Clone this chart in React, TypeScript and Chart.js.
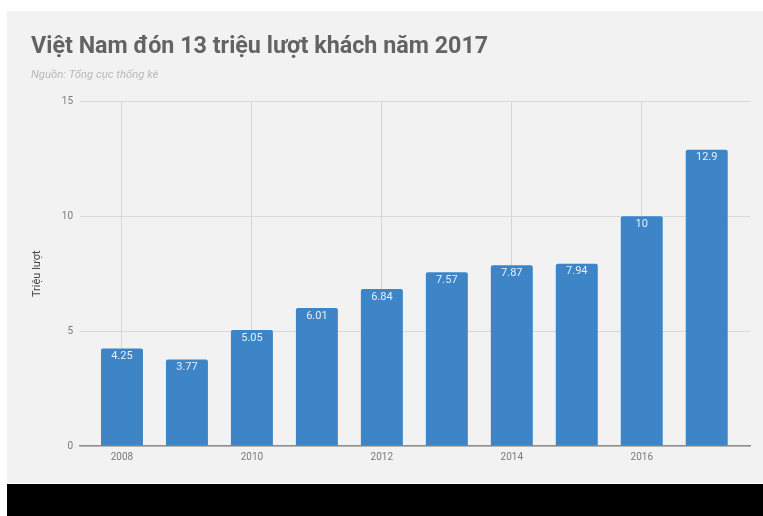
import React, { useEffect, useRef } from "react";
import { Chart, registerables } from "chart.js";

Chart.register(...registerables);

const years: number[] = [2008, 2009, 2010, 2011, 2012, 2013, 2014, 2015, 2016, 2017];
const visitors: number[] = [4.25, 3.77, 5.05, 6.01, 6.84, 7.57, 7.87, 7.94, 10, 12.9];
const valueLabels: string[] = ["4.25", "3.77", "5.05", "6.01", "6.84", "7.57", "7.87", "7.94", "10", "12.9"];
const xTickYears: number[] = [2008, 2010, 2012, 2014, 2016];
const yTicks: number[] = [0, 5, 10, 15];

const TITLE = "Việt Nam đón 13 triệu lượt khách năm 2017";
const SUBTITLE = "Nguồn: Tổng cục thống kê";
const Y_TITLE = "Triệu lượt";

const valueLabelPlugin = {
  id: "valueLabels",
  afterDatasetsDraw(chart: any) {
    const ctx = chart.ctx;
    const meta = chart.getDatasetMeta(0);
    ctx.save();
    ctx.font = '11px Roboto, "Noto Sans", sans-serif';
    ctx.fillStyle = "#e8eef8";
    ctx.textAlign = "center";
    ctx.textBaseline = "middle";
    meta.data.forEach((bar: any, i: number) => {
      ctx.fillText(valueLabels[i], bar.x, bar.y + 8);
    });
    ctx.restore();
  },
};

export default function App() {
  const canvasRef = useRef<HTMLCanvasElement | null>(null);

  useEffect(() => {
    document.body.style.margin = "0";
    const canvas = canvasRef.current;
    if (!canvas) return;
    const chart = new Chart(canvas, {
      type: "bar",
      data: {
        datasets: [
          {
            data: years.map((y, i) => ({ x: y, y: visitors[i] })),
            backgroundColor: "#3d85c6",
            borderWidth: 0,
            borderRadius: { topLeft: 2, topRight: 2, bottomLeft: 0, bottomRight: 0 },
            borderSkipped: "bottom",
            barPercentage: 1,
            categoryPercentage: 0.646,
          },
        ],
      },
      plugins: [valueLabelPlugin],
      options: {
        responsive: false,
        animation: false,
        devicePixelRatio: 1,
        layout: { padding: { left: 24, right: 13, top: 0, bottom: 0 } },
        plugins: {
          legend: { display: false },
          tooltip: { enabled: false },
          title: {
            display: true,
            text: TITLE,
            align: "start",
            color: "#636363",
            font: { family: 'Roboto, "Noto Sans", sans-serif', size: 23.3, weight: "bold", lineHeight: 1.2 },
            padding: { top: 22, bottom: 5 },
          },
          subtitle: {
            display: true,
            text: SUBTITLE,
            align: "start",
            color: "#b8b8b8",
            font: { family: 'Roboto, "Noto Sans", sans-serif', size: 11.3, style: "italic", lineHeight: 1.2 },
            padding: { top: 2, bottom: 20 },
          },
        },
        scales: {
          x: {
            type: "linear",
            min: 2007.354,
            max: 2017.666,
            offset: false,
            afterFit: (scale: any) => {
              scale.height = 37;
            },
            afterBuildTicks: (scale: any) => {
              scale.ticks = xTickYears.map((v) => ({ value: v }));
            },
            ticks: {
              color: "#7a7a7a",
              padding: 5,
              font: { family: 'Roboto, "Noto Sans", sans-serif', size: 10 },
              callback: (v: any) => String(v),
              maxRotation: 0,
              autoSkip: false,
            },
            grid: { color: "#d6d6d6", lineWidth: 1, drawTicks: false, offset: false },
            border: { display: true, color: "#8e8e8e", width: 1.5 },
          },
          y: {
            min: 0,
            max: 15,
            afterFit: (scale: any) => {
              scale.width = 49;
            },
            afterBuildTicks: (scale: any) => {
              scale.ticks = yTicks.map((v) => ({ value: v }));
            },
            ticks: {
              color: "#7a7a7a",
              padding: 7,
              font: { family: 'Roboto, "Noto Sans", sans-serif', size: 10 },
            },
            grid: { color: "#d9d9d9", lineWidth: 1, drawTicks: false },
            border: { display: false },
            title: {
              display: true,
              text: Y_TITLE,
              color: "#444444",
              padding: 0,
              font: { family: 'Roboto, "Noto Sans", sans-serif', size: 11, lineHeight: 1.2 },
            },
          },
        },
      },
    });
    return () => chart.destroy();
  }, []);

  return (
    <div style={{ position: "relative", width: 763, height: 516, background: "#ffffff", overflow: "hidden" }}>
      <div style={{ position: "absolute", left: 7, top: 11, width: 756, height: 472, background: "#f2f2f2" }} />
      <div style={{ position: "absolute", left: 7, top: 484, width: 756, height: 32, background: "#000000" }} />
      <canvas
        ref={canvasRef}
        width={756}
        height={472}
        style={{ position: "absolute", left: 7, top: 11, width: 756, height: 472 }}
      />
    </div>
  );
}
